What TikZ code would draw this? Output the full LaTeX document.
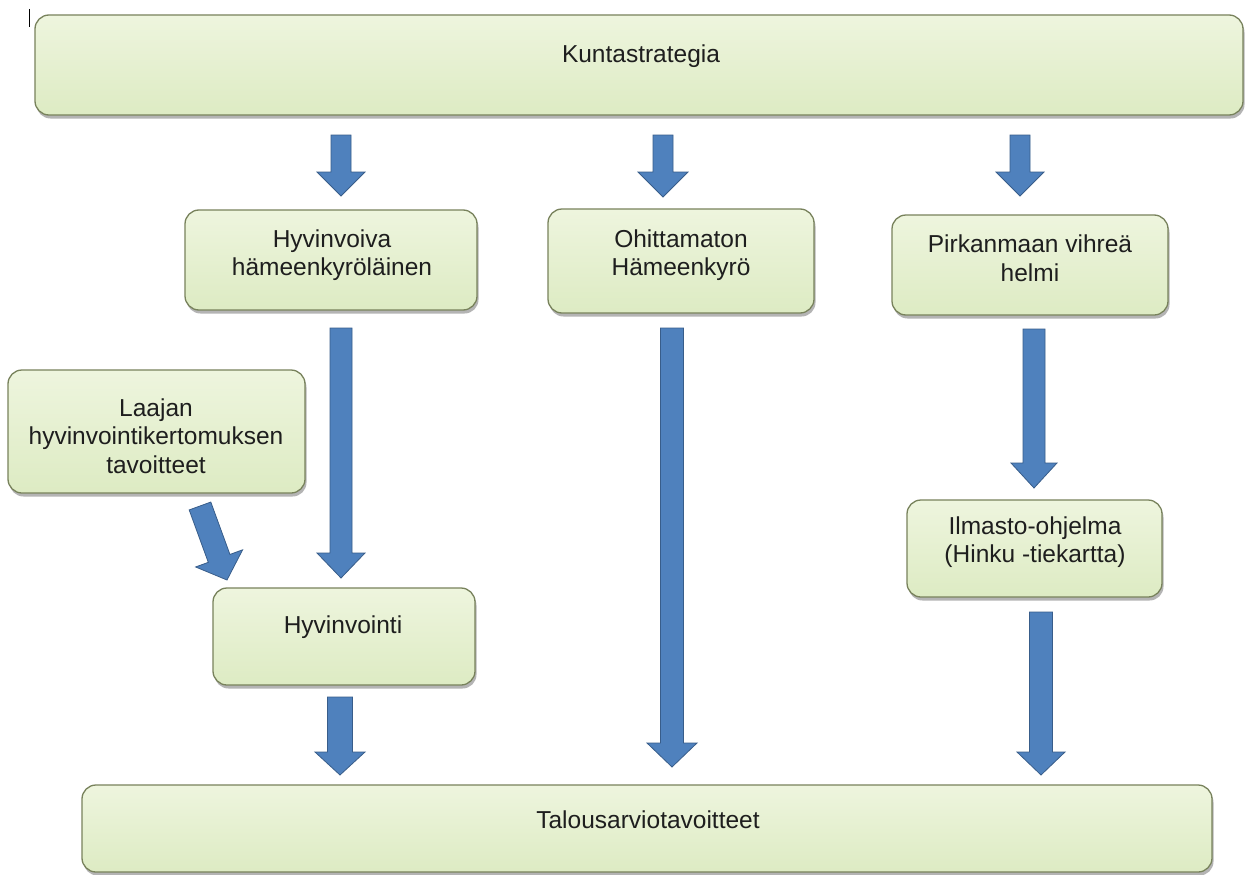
\documentclass[tikz,border=0pt]{standalone}
\usepackage{fontspec}
\setmainfont{Liberation Sans}
\usetikzlibrary{calc,shadows}
\definecolor{boxtop}{RGB}{238,245,222}
\definecolor{boxbot}{RGB}{221,235,195}
\definecolor{boxline}{RGB}{120,130,92}
\definecolor{arrfill}{RGB}{79,129,189}
\definecolor{arrline}{RGB}{56,93,138}
\definecolor{txt}{RGB}{30,30,30}
\tikzset{
  gbox/.style={rectangle, rounded corners=14pt, draw=boxline, line width=1.3pt,
    top color=boxtop, bottom color=boxbot,
    drop shadow={shadow xshift=1.5pt, shadow yshift=-3.5pt, opacity=0.45, fill=black!65},
    inner sep=0pt},
  lbl/.style={text=txt, font=\fontsize{24.5}{28.5}\selectfont, align=center, inner sep=0pt},
  blockarrow/.style={fill=arrfill, draw=arrline, line width=0.8pt, line join=miter},
}
\newcommand\blockarr[5]{%
  \coordinate (hbase) at ($(#2)!#5!(#1)$);
  \draw[blockarrow] ($(#1)!#3!90:(#2)$) -- ($(hbase)!#3!-90:(#1)$) -- ($(hbase)!#4!-90:(#1)$)
    -- (#2) -- ($(hbase)!#4!90:(#1)$) -- ($(hbase)!#3!90:(#1)$) -- ($(#1)!#3!-90:(#2)$) -- cycle;}
\begin{document}
\begin{tikzpicture}[x=1pt,y=-1pt]
\useasboundingbox (0,0) rectangle (1250,875);
\fill[white] (0,0) rectangle (1250,875);
% cursor mark
\draw[line width=1pt, black] (29,9) -- (29,27);
% boxes
\node[gbox, minimum width=1208pt, minimum height=100pt] (kunta) at (639,65) {};
\node[gbox, minimum width=292pt, minimum height=100pt] (hyv) at (331,260) {};
\node[gbox, minimum width=266pt, minimum height=104pt] (ohi) at (681,261) {};
\node[gbox, minimum width=276pt, minimum height=100pt] (pirk) at (1030,265) {};
\node[gbox, minimum width=297pt, minimum height=123pt] (laaj) at (156.5,431.5) {};
\node[gbox, minimum width=262pt, minimum height=97pt] (hyvi) at (344,636.5) {};
\node[gbox, minimum width=255pt, minimum height=97pt] (ilm) at (1034.5,548.5) {};
\node[gbox, minimum width=1130pt, minimum height=87pt] (talo) at (647,828.5) {};
% texts
\node[lbl] (kuntat) at (641,56) {Kuntastrategia};
\node[lbl] (hyvt) at (332,255) {Hyvinvoiva\\hämeenkyröläinen};
\node[lbl] (ohit) at (681,255) {Ohittamaton\\Hämeenkyrö};
\node[lbl] (pirkt) at (1030,258) {Pirkanmaan vihreä\\helmi};
\node[lbl] (laajt) at (156,436) {Laajan\\hyvinvointikertomuksen\\tavoitteet};
\node[lbl] (hyvit) at (343,627) {Hyvinvointi};
\node[lbl] (ilmt) at (1035,542) {Ilmasto-ohjelma\\(Hinku -tiekartta)};
\node[lbl] (talot) at (648,820) {Talousarviotavoitteet};
% arrow end points
\coordinate (a1s) at (341,135); \coordinate (a1e) at (341,196);
\coordinate (a2s) at (663,135); \coordinate (a2e) at (663,197);
\coordinate (a3s) at (1020,135); \coordinate (a3e) at (1020,196);
\coordinate (a4s) at (341,328); \coordinate (a4e) at (341,578);
\coordinate (a5s) at (672,328); \coordinate (a5e) at (672,767);
\coordinate (a6s) at (1034,329); \coordinate (a6e) at (1034,488);
\coordinate (a7s) at (1041,612); \coordinate (a7e) at (1041,775);
\coordinate (a8s) at (340,697); \coordinate (a8e) at (340,775);
\coordinate (a9s) at (200,506); \coordinate (a9e) at (227,580);
% arrows
\blockarr{a1s}{a1e}{10pt}{24pt}{24pt}
\blockarr{a2s}{a2e}{10pt}{25pt}{25pt}
\blockarr{a3s}{a3e}{10pt}{24pt}{24pt}
\blockarr{a4s}{a4e}{11pt}{24pt}{25pt}
\blockarr{a5s}{a5e}{11.5pt}{25pt}{24pt}
\blockarr{a6s}{a6e}{11pt}{23pt}{25pt}
\blockarr{a7s}{a7e}{11.5pt}{24pt}{23pt}
\blockarr{a8s}{a8e}{12.5pt}{25pt}{23pt}
\blockarr{a9s}{a9e}{11.5pt}{25pt}{23pt}
\end{tikzpicture}
\end{document}
